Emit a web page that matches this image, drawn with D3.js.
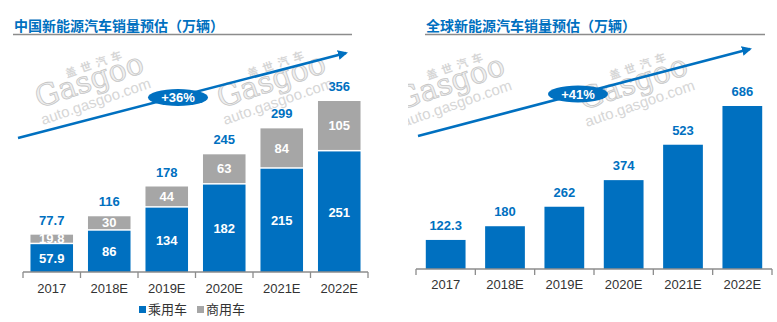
<!DOCTYPE html>
<html>
<head>
<meta charset="utf-8">
<script src="https://cdn.jsdelivr.net/npm/d3@7"></script>
<style>
    body { margin: 0; background: #fff; }
    svg { display: block; }
</style>
</head>
<body>
<svg width="777" height="322"></svg>
<script>
const years = ["2017", "2018E", "2019E", "2020E", "2021E", "2022E"];
const chinaPassenger = [57.9, 86, 134, 182, 215, 251];
const chinaCommercial = [19.8, 30, 44, 63, 84, 105];
const chinaTotal = [77.7, 116, 178, 245, 299, 356];
const globalTotal = [122.3, 180, 262, 374, 523, 686];
const titles = ["中国新能源汽车销量预估（万辆）", "全球新能源汽车销量预估（万辆）"];
const growth = ["+36%", "+41%"];
const legendNames = ["乘用车", "商用车"];

const blue = "#0070C0", grey = "#A6A6A6";
const numFont = "'Liberation Sans', Arial, sans-serif";
const cjkFont = "'Noto Sans CJK SC', sans-serif";

const svg = d3.select("svg");

svg.append("defs").append("marker")
    .attr("id", "head")
    .attr("viewBox", "0 0 10 10")
    .attr("refX", 8).attr("refY", 5)
    .attr("markerWidth", 4).attr("markerHeight", 4)
    .attr("markerUnits", "strokeWidth")
    .attr("orient", "auto")
    .append("path")
    .attr("d", "M0,0 L10,5 L0,10 z")
    .attr("fill", blue);

svg.select("defs").append("clipPath").attr("id", "rightClip")
    .append("rect").attr("x", 408).attr("y", 0).attr("width", 369).attr("height", 322);

// gasgoo watermark
function watermark(g, x, y) {
    const w = g.append("g")
        .attr("transform", `translate(${x},${y}) rotate(-19)`)
        .style("fill", "#d6d6d6");
    w.append("text").attr("x", 0).attr("y", 0)
        .attr("font-family", numFont).attr("font-size", 15)
        .text("auto.gasgoo.com");
    w.append("text").attr("x", 2).attr("y", -17)
        .attr("font-family", "'DejaVu Serif', serif").attr("font-size", 30)
        .style("fill", "#f0f0f0").style("stroke", "#c6c6c6").style("stroke-width", 0.8)
        .text("Gasgoo");
    w.append("text").attr("x", 38).attr("y", -37)
        .attr("font-family", cjkFont).attr("font-size", 11).attr("font-weight", "bold")
        .attr("letter-spacing", 5)
        .text("盖世汽车");
}

function panelTitle(x0, x1, text) {
    svg.append("text")
        .attr("x", x0 + 1).attr("y", 31)
        .attr("font-family", cjkFont).attr("font-size", 14).attr("font-weight", "bold")
        .attr("fill", blue)
        .text(text);
    svg.append("line")
        .attr("x1", x0).attr("x2", x1).attr("y1", 34.5).attr("y2", 34.5)
        .style("stroke", "#8c8c8c").style("stroke-width", 1.3);
}

function drawAxis(x, base, labelY) {
    const half = x.step() * x.paddingInner() / 2;
    const bounds = years.map(d => x(d) - half).concat([x(years[years.length - 1]) + x.bandwidth() + half]);
    svg.append("line")
        .attr("x1", bounds[0]).attr("x2", bounds[bounds.length - 1])
        .attr("y1", base).attr("y2", base)
        .style("stroke", "#8c8c8c").style("stroke-width", 1.3);
    svg.selectAll(null).data(bounds).enter().append("line")
        .attr("x1", d => d).attr("x2", d => d)
        .attr("y1", base).attr("y2", base + 6)
        .style("stroke", "#8c8c8c").style("stroke-width", 1.3);
    svg.selectAll(null).data(years).enter().append("text")
        .attr("x", d => x(d) + x.bandwidth() / 2)
        .attr("y", labelY)
        .attr("text-anchor", "middle")
        .attr("font-family", numFont).attr("font-size", 13)
        .attr("fill", "#333")
        .text(d => d);
}

function growthArrow(x1, y1, x2, y2, cx, cy, label) {
    svg.append("line")
        .attr("x1", x1).attr("y1", y1).attr("x2", x2).attr("y2", y2)
        .style("stroke", blue).style("stroke-width", 2.5)
        .attr("marker-end", "url(#head)");
    svg.append("ellipse")
        .attr("cx", cx).attr("cy", cy).attr("rx", 30).attr("ry", 8.5)
        .attr("fill", blue);
    svg.append("text")
        .attr("x", cx).attr("y", cy + 4.5)
        .attr("text-anchor", "middle")
        .attr("font-family", numFont).attr("font-size", 13).attr("font-weight", "bold")
        .attr("fill", "#fff")
        .text(label);
}

// ---------- left: China ----------
const wmLeft = svg.append("g");
watermark(wmLeft, 43, 125);
watermark(wmLeft, 225, 125);

panelTitle(13, 352, titles[0]);

const xL = d3.scaleBand().domain(years).range([23, 368]).paddingInner(0.26).paddingOuter(0.13);
const yL = d3.scaleLinear().domain([0, 356]).range([272, 101]);

const china = years.map((d, i) => ({ year: d, p: chinaPassenger[i], c: chinaCommercial[i], t: chinaTotal[i] }));

svg.selectAll(".barP").data(china).enter().append("rect")
    .attr("class", "barP")
    .attr("x", d => xL(d.year))
    .attr("y", d => yL(d.p))
    .attr("width", xL.bandwidth())
    .attr("height", d => yL(0) - yL(d.p))
    .attr("fill", blue);

svg.selectAll(".barC").data(china).enter().append("rect")
    .attr("class", "barC")
    .attr("x", d => xL(d.year))
    .attr("y", d => yL(d.t))
    .attr("width", xL.bandwidth())
    .attr("height", d => yL(d.p) - yL(d.t) - 1.5)
    .attr("fill", grey);

svg.selectAll(".labP").data(china).enter().append("text")
    .attr("x", d => xL(d.year) + xL.bandwidth() / 2)
    .attr("y", d => (yL(d.p) + yL(0)) / 2 + 5)
    .attr("text-anchor", "middle")
    .attr("font-family", numFont).attr("font-size", 13).attr("font-weight", "bold")
    .attr("fill", "#fff")
    .text(d => d.p);

svg.selectAll(".labC").data(china).enter().append("text")
    .attr("x", d => xL(d.year) + xL.bandwidth() / 2)
    .attr("y", d => (yL(d.t) + yL(d.p)) / 2 + 4)
    .attr("text-anchor", "middle")
    .attr("font-family", numFont).attr("font-size", 13).attr("font-weight", "bold")
    .attr("fill", "#fff")
    .text(d => d.c);

svg.selectAll(".labT").data(china).enter().append("text")
    .attr("x", d => xL(d.year) + xL.bandwidth() / 2)
    .attr("y", d => yL(d.t) - 10)
    .attr("text-anchor", "middle")
    .attr("font-family", numFont).attr("font-size", 13).attr("font-weight", "bold")
    .attr("fill", blue)
    .text(d => d.t);

drawAxis(xL, 272, 293);
growthArrow(18, 138, 346, 53, 178, 97.5, growth[0]);

// legend
const legend = svg.append("g").attr("transform", "translate(139,306)");
legendNames.forEach((name, i) => {
    const lg = legend.append("g").attr("transform", `translate(${i * 58},0)`);
    lg.append("rect").attr("width", 7).attr("height", 7).attr("fill", i === 0 ? blue : grey);
    lg.append("text").attr("x", 9).attr("y", 8)
        .attr("font-family", cjkFont).attr("font-size", 13)
        .attr("fill", "#333")
        .text(name);
});

// ---------- right: global ----------
const wmRight = svg.append("g").attr("clip-path", "url(#rightClip)");
watermark(wmRight, 404, 127);
watermark(wmRight, 587, 127);

panelTitle(425, 765, titles[1]);

const xR = d3.scaleBand().domain(years).range([416, 772]).paddingInner(0.33).paddingOuter(0.165);
const yR = d3.scaleLinear().domain([0, 686]).range([269, 106]);

const globalData = years.map((d, i) => ({ year: d, t: globalTotal[i] }));

svg.selectAll(".barG").data(globalData).enter().append("rect")
    .attr("class", "barG")
    .attr("x", d => xR(d.year))
    .attr("y", d => yR(d.t))
    .attr("width", xR.bandwidth())
    .attr("height", d => yR(0) - yR(d.t))
    .attr("fill", blue);

svg.selectAll(".labG").data(globalData).enter().append("text")
    .attr("x", d => xR(d.year) + xR.bandwidth() / 2)
    .attr("y", d => yR(d.t) - 10)
    .attr("text-anchor", "middle")
    .attr("font-family", numFont).attr("font-size", 13).attr("font-weight", "bold")
    .attr("fill", blue)
    .text(d => d.t);

drawAxis(xR, 269, 289);
growthArrow(418, 136, 750, 49, 578, 94, growth[1]);
</script>
</body>
</html>
